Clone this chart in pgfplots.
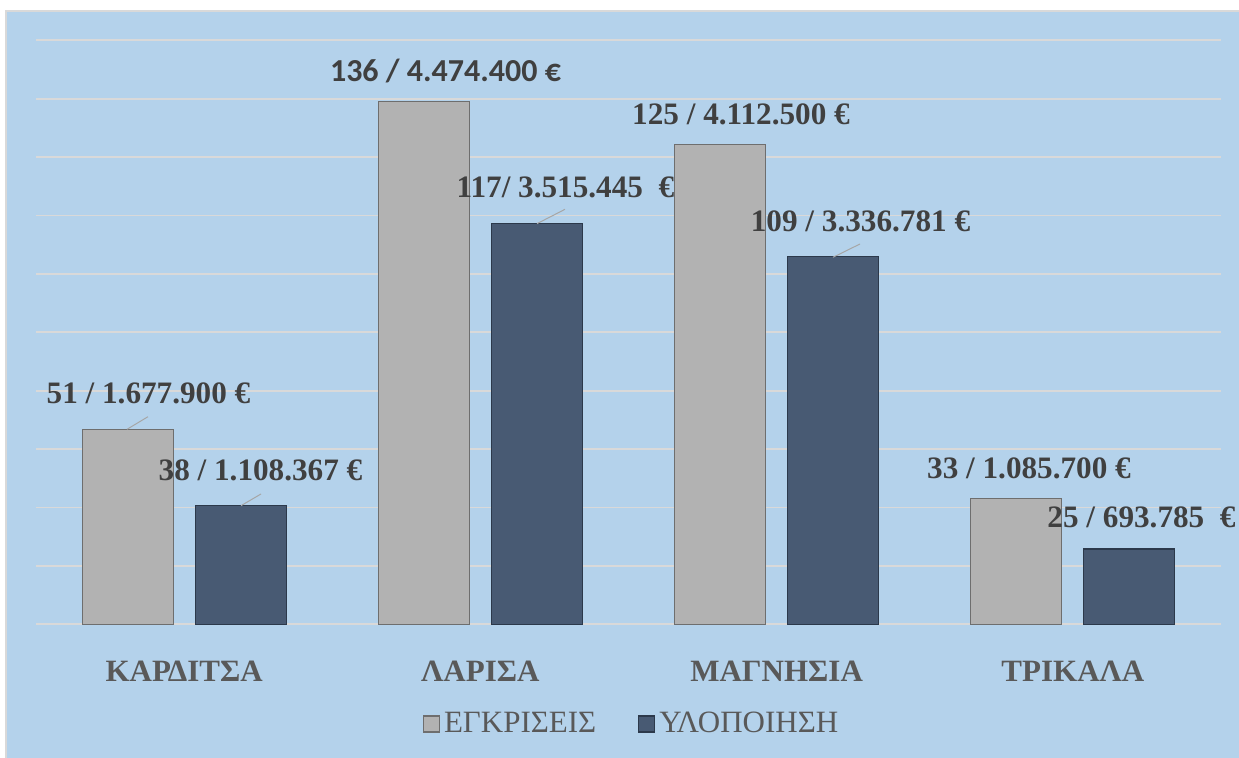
\documentclass[border=0pt]{standalone}
\usepackage{fontspec}
\setmainfont{Liberation Serif}
\newfontfamily\calib{Carlito}
\usepackage{pgfplots}
\usepackage{pgfplotstable}
\pgfplotsset{compat=1.18}

\definecolor{bgblue}{HTML}{B4D2EB}
\definecolor{gridgray}{HTML}{D9D9D9}
\definecolor{barsilver}{HTML}{B2B2B2}
\definecolor{silveredge}{HTML}{6E6E6E}
\definecolor{barslate}{HTML}{485A73}
\definecolor{slateedge}{HTML}{2C394B}
\definecolor{lbltext}{HTML}{404040}
\definecolor{cattext}{HTML}{595959}
\definecolor{leader}{HTML}{A6A6A6}

% values in million euro
\pgfplotstableread{
idx egk ylo
0 1.665 1.015
1 4.474 3.430
2 4.110 3.147
3 1.075 0.645
}\datatable

\begin{document}
\begin{tikzpicture}
\useasboundingbox (0pt,0pt) rectangle (619.5pt,379pt);
\fill[bgblue] (3pt,-4pt) rectangle (624pt,373.5pt);
\draw[gridgray, line width=0.8pt] (3pt,-4pt) -- (3pt,373.5pt) -- (624pt,373.5pt);
\begin{axis}[
    at={(18pt,66.85pt)}, anchor=south west,
    scale only axis, width=592.5pt, height=292pt,
    xmin=-0.5, xmax=3.5, ymin=0, ymax=5,
    ybar=11pt, bar width=45.5pt,
    clip=false,
    xtick={0,1,2,3},
    xticklabels={ΚΑΡΔΙΤΣΑ,ΛΑΡΙΣΑ,ΜΑΓΝΗΣΙΑ,ΤΡΙΚΑΛΑ},
    xticklabel style={anchor=base, yshift=-24.5pt,
        font=\fontsize{15.5}{18}\selectfont\bfseries, text=cattext},
    ytick={0,0.5,...,5}, yticklabels={},
    ymajorgrids, grid style={gridgray, line width=0.85pt},
    axis line style={draw=none}, tick style={draw=none},
    legend columns=2,
    legend style={at={(0.5034,-0.1707)}, anchor=center, draw=none, fill=none,
        font=\fontsize{15.5}{18}\selectfont, text=cattext,
        /tikz/every even column/.append style={column sep=19pt}},
    legend image code/.code={\draw[#1] (0pt,-4pt) rectangle (8pt,4pt);},
]
\addplot[fill=barsilver, draw=silveredge, line width=0.6pt] table[x=idx, y=egk] {\datatable};
\addplot[fill=barslate, draw=slateedge, line width=0.6pt] table[x=idx, y=ylo] {\datatable};
\legend{ΕΓΚΡΙΣΕΙΣ, ΥΛΟΠΟΙΗΣΗ}

% leader lines
\draw[leader, line width=0.5pt] (axis cs:-0.1928,1.6695) -- (axis cs:-0.1219,1.7774);
\draw[leader, line width=0.5pt] (axis cs:0.192,1.0154) -- (axis cs:0.2595,1.1156);
\draw[leader, line width=0.5pt] (axis cs:1.1911,3.4298) -- (axis cs:1.2857,3.5531);
\draw[leader, line width=0.5pt] (axis cs:2.1903,3.1421) -- (axis cs:2.2814,3.256);

% data labels
\begin{scope}[every node/.style={anchor=base, text=lbltext, inner sep=0pt,
    font=\fontsize{15.6}{18}\selectfont\bfseries}]
\node[font=\fontsize{16}{18}\selectfont\calib\bfseries] at (axis cs:0.8823,4.6455) {136 / 4.474.400 €};
\node at (axis cs:1.2873,3.6558) {117/ 3.515.445\ \ €};
\node at (axis cs:1.8797,4.2748) {125 / 4.112.500 €};
\node at (axis cs:2.2831,3.3613) {109 / 3.336.781 €};
\node at (axis cs:-0.1203,1.8861) {51 / 1.677.900 €};
\node at (axis cs:0.2578,1.2295) {38 / 1.108.367 €};
\node at (axis cs:2.8519,1.25) {33 / 1.085.700 €};
\node at (axis cs:3.2316,0.8305) {25 / 693.785\ \ €};
\end{scope}
\end{axis}
\end{tikzpicture}
\end{document}
